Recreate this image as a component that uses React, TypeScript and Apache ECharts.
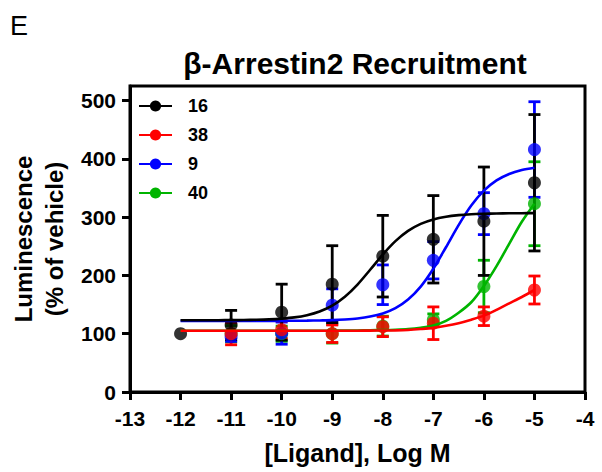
import React, { useEffect, useRef } from 'react';
import * as echarts from 'echarts';

const FONT = '"Liberation Sans", Arial, sans-serif';

// legend / compound names
const compoundNames = ['16', '38', '9', '40'];
const compoundColors = ['#000000', '#ff0000', '#0000ff', '#00b400'];

// x ticks
const xTickMin = -13;
const xTickMax = -4;
const yTickValues = [0, 100, 200, 300, 400, 500];

// data points (mean ± SEM), log M
const dose16 = [-12, -11, -10, -9, -8, -7, -6, -5];
const mean16 = [100, 115, 137, 185, 233, 262, 293, 359];
const sem16 = [0, 25, 48, 66, 70, 75, 93, 117];

const dose = [-11, -10, -9, -8, -7, -6, -5];
const mean38 = [100, 107, 100, 112, 118, 130, 175];
const sem38 = [19, 15, 15, 17, 28, 16, 24];
const mean9 = [95, 101, 149, 184, 226, 306, 416];
const sem9 = [8, 19, 28, 34, 32, 36, 82];
const mean40 = [100, 100, 100, 113, 124, 181, 323];
const sem40 = [14, 13, 16, 17, 10, 45, 72];

// fitted curves (every 0.25 log unit)
const fitX = [
  -12, -11.75, -11.5, -11.25, -11, -10.75, -10.5, -10.25, -10, -9.75, -9.5, -9.25, -9, -8.75, -8.5,
  -8.25, -8, -7.75, -7.5, -7.25, -7, -6.75, -6.5, -6.25, -6, -5.75, -5.5, -5.25, -5,
];
const fit16 = [
  123, 123, 123.1, 123.2, 123.3, 123.5, 123.9, 124.6, 125.9, 128, 131.8, 138.1, 148.2, 163.5, 184.4,
  209.7, 235.8, 258.8, 276.4, 288.4, 296.1, 300.7, 303.4, 305, 305.8, 306.3, 306.6, 306.8, 306.9,
];
const fit38 = [
  105, 105, 105, 105, 105, 105, 105, 105, 105, 105, 105, 105, 105.1, 105.1, 105.2,
  105.3, 105.5, 105.8, 106.5, 108, 110, 113.5, 118, 124, 131, 141, 152, 163, 175,
];
const fit9 = [
  122, 122, 122, 122, 122, 122, 122, 122, 122.1, 122.2, 122.4, 122.8, 123.3, 124.4, 126.2,
  129.4, 134.8, 143.9, 158.7, 180.9, 211.5, 248.3, 286.3, 319.8, 345.4, 363, 374.1, 380.8, 384.7,
];
const fit40 = [
  105, 105, 105, 105, 105, 105, 105, 105, 105, 105, 105, 105.1, 105.2, 105.4, 105.6,
  105.9, 106.3, 106.9, 108, 110.3, 114, 122, 136, 154, 182, 216, 254, 292, 323,
];

function zip(xs: number[], ys: number[]) {
  return xs.map((x, i) => [x, ys[i]]);
}

function curveSeries(name: string, ys: number[], color: string) {
  return {
    type: 'line',
    name,
    data: zip(fitX, ys),
    smooth: 0.3,
    symbol: 'circle',
    symbolSize: 13,
    showSymbol: false,
    lineStyle: { color, width: 2.6 },
    itemStyle: { color },
    silent: true,
  };
}

function errSeries(name: string, xs: number[], means: number[], sems: number[], color: string) {
  return {
    type: 'custom',
    name: name + ' SEM',
    data: xs.map((x, i) => [x, means[i] - sems[i], means[i] + sems[i]]),
    encode: { x: 0, y: [1, 2] },
    silent: true,
    renderItem: (params: any, api: any) => {
      const x = api.value(0);
      const lo = api.coord([x, api.value(1)]);
      const hi = api.coord([x, api.value(2)]);
      const hw = 6;
      const st = { stroke: color, lineWidth: 2.8 };
      if (Math.abs(lo[1] - hi[1]) < 0.5) return { type: 'group', children: [] };
      return {
        type: 'group',
        children: [
          { type: 'line', shape: { x1: lo[0], y1: lo[1], x2: hi[0], y2: hi[1] }, style: st },
          { type: 'line', shape: { x1: lo[0] - hw, y1: lo[1], x2: lo[0] + hw, y2: lo[1] }, style: st },
          { type: 'line', shape: { x1: hi[0] - hw, y1: hi[1], x2: hi[0] + hw, y2: hi[1] }, style: st },
        ],
      };
    },
  };
}

function pointSeries(name: string, xs: number[], means: number[], color: string) {
  return {
    type: 'scatter',
    name: name + ' pts',
    data: zip(xs, means),
    symbol: 'circle',
    symbolSize: 13,
    itemStyle: { color },
    silent: true,
  };
}

export default function App() {
  const ref = useRef<HTMLDivElement>(null);
  useEffect(() => {
    if (!ref.current) return;
    const chart = echarts.init(ref.current, undefined, { renderer: 'svg' });
    const [c16, c38, c9, c40] = compoundColors;
    const series: any[] = [
      curveSeries(compoundNames[3], fit40, c40),
      errSeries(compoundNames[3], dose, mean40, sem40, c40),
      pointSeries(compoundNames[3], dose, mean40, c40),
      curveSeries(compoundNames[2], fit9, c9),
      errSeries(compoundNames[2], dose, mean9, sem9, c9),
      pointSeries(compoundNames[2], dose, mean9, c9),
      curveSeries(compoundNames[1], fit38, c38),
      errSeries(compoundNames[1], dose, mean38, sem38, c38),
      pointSeries(compoundNames[1], dose, mean38, c38),
      curveSeries(compoundNames[0], fit16, c16),
      errSeries(compoundNames[0], dose16, mean16, sem16, c16),
      pointSeries(compoundNames[0], dose16, mean16, c16),
    ];
    chart.setOption({
      animation: false,
      grid: {
        left: 127,
        right: 17,
        top: 86,
        bottom: 80,
        show: true,
        borderColor: '#000',
        borderWidth: 3,
        backgroundColor: 'transparent',
      },
      legend: {
        data: compoundNames,
        orient: 'vertical',
        left: 133,
        top: 92,
        itemWidth: 33,
        itemHeight: 14,
        itemGap: 11,
        textStyle: {
          fontFamily: FONT,
          fontWeight: 'bold',
          fontSize: 18,
          color: '#000',
          padding: [0, 0, 0, 11],
        },
        selectedMode: false,
      },
      graphic: [
        {
          type: 'text',
          left: 10,
          top: 12,
          style: { text: 'E', fontFamily: FONT, fontSize: 27, fill: '#000' },
        },
        {
          type: 'text',
          x: 355,
          y: 63,
          style: {
            text: 'β-Arrestin2 Recruitment',
            fontFamily: FONT,
            fontWeight: 'bold',
            fontSize: 30,
            fill: '#000',
            align: 'center',
            verticalAlign: 'middle',
          },
        },
      ],
      xAxis: {
        type: 'value',
        min: xTickMin,
        max: xTickMax,
        interval: 1,
        name: '[Ligand], Log M',
        nameLocation: 'middle',
        nameGap: 48,
        nameTextStyle: { fontFamily: FONT, fontWeight: 'bold', fontSize: 25, color: '#000' },
        axisLine: { onZero: false, lineStyle: { color: '#000', width: 3 } },
        axisTick: { show: true, length: 8, lineStyle: { color: '#000', width: 3 } },
        axisLabel: { fontFamily: FONT, fontWeight: 'bold', fontSize: 21, color: '#000', margin: 16 },
        splitLine: { show: false },
      },
      yAxis: {
        type: 'value',
        min: 0,
        max: 525,
        name: 'Luminescence\n(% of vehicle)',
        nameLocation: 'middle',
        nameRotate: 90,
        nameGap: 60,
        nameTextStyle: { fontFamily: FONT, fontWeight: 'bold', fontSize: 24, lineHeight: 31, color: '#000' },
        axisLine: { show: true, onZero: false, lineStyle: { color: '#000', width: 3 } },
        axisTick: { show: true, length: 8, customValues: yTickValues, lineStyle: { color: '#000', width: 3 } },
        axisLabel: { fontFamily: FONT, fontWeight: 'bold', fontSize: 21, color: '#000', margin: 14, customValues: yTickValues },
        splitLine: { show: false },
      },
      series,
    });
    return () => chart.dispose();
  }, []);
  return <div ref={ref} style={{ position: 'absolute', left: 0, top: 0, width: 602, height: 472 }} />;
}
